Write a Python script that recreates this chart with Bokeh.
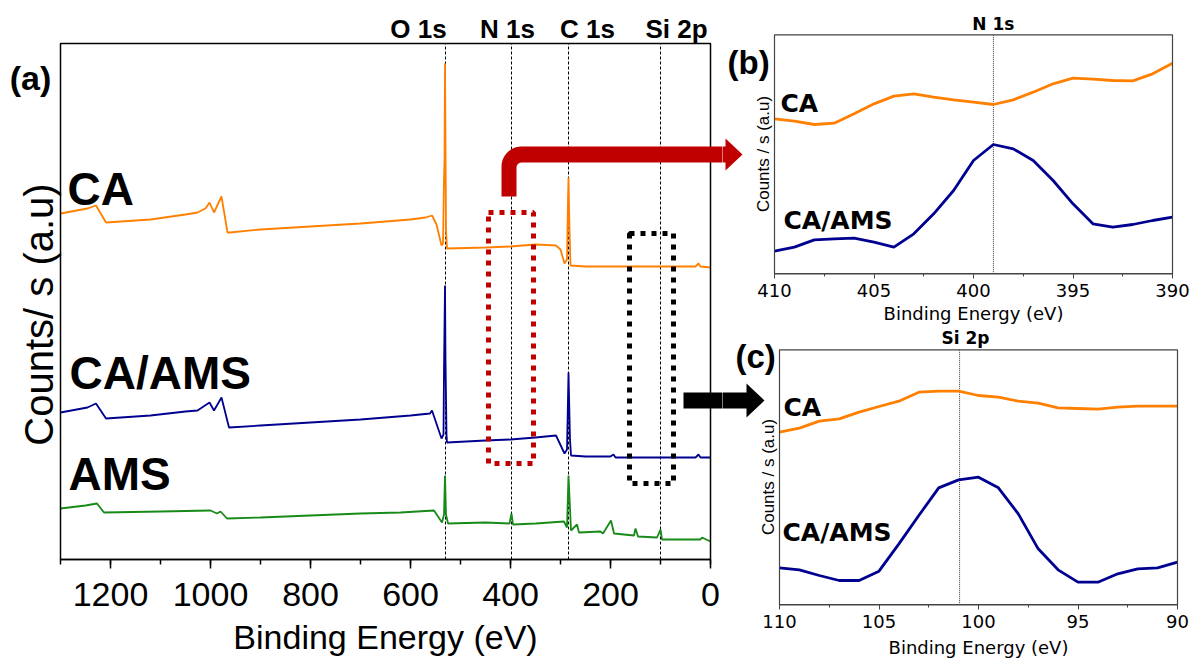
import numpy as np
from bokeh.plotting import figure
from bokeh.layouts import row, column
from bokeh.models import (Range1d, Label, PolyAnnotation, BoxAnnotation, LinearAxis,
                          SingleIntervalTicker, FixedTicker)
from bokeh.embed import file_html
from bokeh.resources import INLINE

# ---------------- data: survey spectra (binding energy eV, counts a.u.) -------------
ca_be = [1300, 1246, 1229, 1209, 1120, 1050, 1026, 1010, 1002, 993, 978, 966, 961, 900, 800,
         700, 600, 570, 557, 548, 538, 535, 533, 532, 531, 530, 529, 527, 450, 400, 350, 309,
         300, 292, 287, 285, 284, 282, 280, 250, 150, 100, 30, 24, 20, 0]
ca_cts = [346, 351, 354, 337, 340, 345, 347, 351, 357, 347, 363, 327, 327, 330, 333,
          336, 340, 342, 344, 335, 314, 316, 380, 400, 496, 420, 330, 311, 312, 313, 315, 314,
          310, 296, 300, 360, 382, 330, 294, 293, 293, 293, 293, 296, 293, 292]

caams_be = [1300, 1246, 1229, 1209, 1120, 1050, 1026, 1002, 993, 978, 963, 900, 800, 700, 600,
            561, 557, 538, 534, 533, 531, 530, 528, 527, 450, 400, 350, 309, 292, 287, 284,
            281, 279, 250, 200, 194, 190, 100, 30, 24, 20, 0]
caams_cts = [147, 152, 156, 141, 144, 148, 149, 157, 149, 162, 132, 134, 137, 140, 144,
             146, 149, 121, 125, 190, 274, 200, 125, 117, 119, 120, 122, 124, 106, 110, 187,
             120, 104, 103, 103, 105, 102, 102, 102, 105, 102, 102]

ams_be = [1300, 1250, 1227, 1213, 1100, 1000, 987, 980, 967, 900, 800, 700, 620, 553, 537,
          533, 531, 529, 525, 450, 402, 398, 395, 350, 293, 287, 284, 279, 267, 263, 220, 215,
          199, 193, 153, 150, 145, 107, 100, 97, 20, 17, 0]
ams_cts = [51, 54, 56, 47, 48, 49, 46, 48, 41, 42, 44, 46, 47, 49, 37,
           45, 84, 45, 36, 37, 36, 46, 35, 36, 38, 32, 84, 29, 35, 27, 28, 26,
           39, 26, 24, 31, 23, 22, 30, 20, 20, 22, 18]

peak_names = ["O 1s", "N 1s", "C 1s", "Si 2p"]
peak_be = [530, 398, 284, 100]
peak_label_be = [584, 406, 246, 68]

# ---------------- data: high-resolution N 1s ----------------
n1s_be = [410, 409, 408, 407, 406, 405, 404, 403, 402, 401, 400, 399, 398, 397, 396, 395,
          394, 393, 392, 391, 390]
n1s_ca = [465, 458, 448, 452, 480, 510, 533, 540, 530, 522, 515, 508, 522, 545, 570, 587,
          584, 580, 579, 600, 632]
n1s_caams = [68, 80, 102, 105, 107, 95, 80, 120, 180, 250, 340, 388, 375, 340, 280, 210,
             150, 140, 148, 160, 170]
n1s_line = 399.0

# ---------------- data: high-resolution Si 2p ----------------
si_be = [110, 109, 108, 107, 106, 105, 104, 103, 102, 101, 100, 99, 98, 97, 96, 95, 94, 93,
         92, 91, 90]
si_ca = [518, 530, 551, 558, 578, 595, 611, 638, 641, 641, 628, 623, 611, 605, 591, 589,
         587, 593, 596, 596, 596]
si_caams = [111, 105, 88, 73, 73, 101, 183, 268, 351, 375, 383, 351, 273, 168, 105, 68, 68,
            93, 108, 111, 128]
si_line = 100.95

# zoom windows marked in the survey (eV)
n_window = (444, 354)
si_window = (162, 74)

ORANGE = "#FF8000"
NAVY = "#000090"
GREEN = "#178A17"
RED = "#C00000"
FONT = "Liberation Sans"
WIDE = "DejaVu Sans"

# layout split (page pixels)
SPLIT_X = 722
SPLIT_Y = 326
TOTAL_W = 1190
TOTAL_H = 658

# ---------------- pixel helpers for decorations (page pixels -> data) ----------------
def main_x(px):
    return (710 - px) / 0.5

def main_y(py):
    return 559 - py

def b_x(px):
    return 410 - (px - 774) / 19.9

def b_y(py):
    return 820 - 3 * py

def c_x(px):
    return 110 - (px - 779) / 19.9

def c_y(py):
    return 823 - 3 * (py - 330)

def red_arrow_px():
    pts = [(501, 196)]
    for a in np.linspace(np.pi, 1.5 * np.pi, 12):
        pts.append((521 + 20 * np.cos(a), 166 + 20 * np.sin(a)))
    pts += [(725, 146), (725, 138), (742, 154), (725, 170), (725, 162)]
    for a in np.linspace(1.5 * np.pi, np.pi, 6):
        pts.append((521 + 5 * np.cos(a), 167 + 5 * np.sin(a)))
    pts.append((516, 196))
    return pts

black_arrow_px = [(683, 392), (746, 392), (746, 383), (764, 400), (746, 417), (746, 408), (683, 408)]

def add_poly(p, pts, fx, fy, color):
    p.add_layout(PolyAnnotation(xs=[fx(x) for x, _ in pts], ys=[fy(y) for _, y in pts],
                                fill_color=color, fill_alpha=1.0, line_color=None))

def lbl(p, x, y, text, font, size, bold=True, align="left"):
    p.add_layout(Label(x=x, y=y, text=text, text_font=font, text_font_size=size,
                       text_font_style="bold" if bold else "normal", text_color="black",
                       text_align=align, text_baseline="middle"))

def base_fig(w, h, xr, yr):
    f = figure(width=w, height=h, x_range=Range1d(*xr), y_range=Range1d(*yr),
               x_axis_type=None, y_axis_type=None, output_backend="svg",
               toolbar_location=None, min_border=0)
    f.xgrid.visible = False
    f.ygrid.visible = False
    f.outline_line_color = None
    f.background_fill_color = "white"
    f.border_fill_color = "white"
    return f

# ================= main survey figure =================
p = base_fig(SPLIT_X, TOTAL_H, (main_x(0), main_x(SPLIT_X)), (main_y(TOTAL_H), main_y(0)))

xa = LinearAxis(fixed_location=0, bounds=(0, 1300),
                ticker=SingleIntervalTicker(interval=200, num_minor_ticks=2))
xa.axis_label = "Binding Energy (eV)"
xa.axis_label_text_font = FONT
xa.axis_label_text_font_size = "34px"
xa.axis_label_text_font_style = "normal"
xa.axis_label_text_color = "black"
xa.axis_label_standoff = 9
xa.major_label_text_font = FONT
xa.major_label_text_font_size = "34px"
xa.major_label_text_color = "black"
xa.major_label_standoff = 14
xa.major_tick_out = 9
xa.major_tick_in = 0
xa.minor_tick_out = 5
xa.minor_tick_in = 0
xa.axis_line_width = 1.5
xa.major_tick_line_width = 1.5
xa.minor_tick_line_width = 1.5
p.add_layout(xa, "below")

ya = LinearAxis(fixed_location=1300, bounds=(-26, 516), ticker=FixedTicker(ticks=[]))
ya.axis_label = "Counts/ s (a.u)"
ya.axis_label_text_font = FONT
ya.axis_label_text_font_size = "40px"
ya.axis_label_text_font_style = "normal"
ya.axis_label_text_color = "black"
ya.axis_label_standoff = 0
ya.axis_line_color = None
p.add_layout(ya, "left")

p.add_layout(BoxAnnotation(left=0, right=1300, bottom=0, top=516, fill_alpha=0,
                           line_color="black", line_alpha=1, line_width=1.5))

p.segment(x0=peak_be, x1=peak_be, y0=[0] * 4, y1=[516] * 4, line_color="black",
          line_dash="3 2", line_width=1)

p.line(ca_be, ca_cts, color=ORANGE, line_width=1.8)
p.line(caams_be, caams_cts, color=NAVY, line_width=1.8)
p.line(ams_be, ams_cts, color=GREEN, line_width=1.8)

p.add_layout(BoxAnnotation(left=n_window[1], right=n_window[0], bottom=main_y(463), top=main_y(212),
                           fill_alpha=0, line_color=RED, line_alpha=1, line_width=5, line_dash="5 6"))
p.add_layout(BoxAnnotation(left=si_window[1], right=si_window[0], bottom=main_y(483), top=main_y(233),
                           fill_alpha=0, line_color="black", line_alpha=1, line_width=5, line_dash="5 6"))

for name, bx in zip(peak_names, peak_label_be):
    lbl(p, bx, main_y(28), name, FONT, "26px", align="center")

for txt, px, py in [("CA", 67, 188), ("CA/AMS", 69, 372), ("AMS", 68, 473)]:
    lbl(p, main_x(px), main_y(py), txt, FONT, "46px")
lbl(p, main_x(30), main_y(77), "(a)", FONT, "34px", align="center")

add_poly(p, red_arrow_px(), main_x, main_y, RED)
add_poly(p, black_arrow_px, main_x, main_y, "black")


# ================= insets =================
def inset(h, xr, yr, xb, yb, tick_sd, title_sd):
    f = base_fig(TOTAL_W - SPLIT_X, h, xr, yr)
    ax = LinearAxis(fixed_location=0, bounds=xb,
                    ticker=SingleIntervalTicker(interval=5, num_minor_ticks=2))
    ax.axis_label = "Binding Energy (eV)"
    ax.axis_label_text_font = WIDE
    ax.axis_label_text_font_size = "18px"
    ax.axis_label_text_font_style = "normal"
    ax.axis_label_text_color = "black"
    ax.axis_label_standoff = title_sd
    ax.major_label_text_font = WIDE
    ax.major_label_text_font_size = "18px"
    ax.major_label_text_color = "black"
    ax.major_label_standoff = tick_sd
    ax.major_tick_out = 5
    ax.major_tick_in = 0
    ax.minor_tick_out = 3
    ax.minor_tick_in = 0
    ax.axis_line_color = "#444444"
    ax.major_tick_line_color = "#444444"
    ax.minor_tick_line_color = "#444444"
    f.add_layout(ax, "below")
    ay = LinearAxis(fixed_location=xb[1], bounds=yb, ticker=FixedTicker(ticks=[]))
    ay.axis_label = "Counts / s (a.u)"
    ay.axis_label_text_font = FONT
    ay.axis_label_text_font_size = "17px"
    ay.axis_label_text_font_style = "normal"
    ay.axis_label_text_color = "black"
    ay.axis_label_standoff = 2
    ay.axis_line_color = None
    f.add_layout(ay, "left")
    f.add_layout(BoxAnnotation(left=xb[0], right=xb[1], bottom=yb[0], top=yb[1], fill_alpha=0,
                               line_color="#444444", line_alpha=1, line_width=1.2))
    return f

pb = inset(SPLIT_Y, (b_x(SPLIT_X), b_x(TOTAL_W)), (b_y(SPLIT_Y), b_y(0)),
           (390, 410), (0, 717), 5, 3)
pb.segment(x0=[n1s_line], x1=[n1s_line], y0=[0], y1=[717], line_color="black",
           line_alpha=0.8, line_dash="1 1", line_width=1)
pb.line(n1s_be, n1s_ca, color=ORANGE, line_width=2.8)
pb.line(n1s_be, n1s_caams, color=NAVY, line_width=2.8)
lbl(pb, n1s_line, b_y(23), "N 1s", WIDE, "17px", align="center")
lbl(pb, b_x(727), b_y(62), "(b)", FONT, "33px")
lbl(pb, b_x(780), b_y(103), "CA", WIDE, "25px")
lbl(pb, b_x(783), b_y(220), "CA/AMS", WIDE, "25px")
add_poly(pb, red_arrow_px(), b_x, b_y, RED)

pc = inset(TOTAL_H - SPLIT_Y, (c_x(SPLIT_X), c_x(TOTAL_W)), (c_y(TOTAL_H), c_y(SPLIT_Y)),
           (90, 110), (0, 765), 5, 6)
pc.segment(x0=[si_line], x1=[si_line], y0=[0], y1=[765], line_color="black",
           line_alpha=0.8, line_dash="1 1", line_width=1)
pc.line(si_be, si_ca, color=ORANGE, line_width=2.8)
pc.line(si_be, si_caams, color=NAVY, line_width=2.8)
lbl(pc, c_x(965), c_y(337), "Si 2p", WIDE, "17px", align="center")
lbl(pc, c_x(735), c_y(356), "(c)", FONT, "33px")
lbl(pc, c_x(783), c_y(407), "CA", WIDE, "25px")
lbl(pc, c_x(782), c_y(532), "CA/AMS", WIDE, "25px")
add_poly(pc, black_arrow_px, c_x, c_y, "black")

layout = row(p, column(pb, pc, spacing=0), spacing=0)
open("out.html", "w").write(file_html(layout, INLINE))
